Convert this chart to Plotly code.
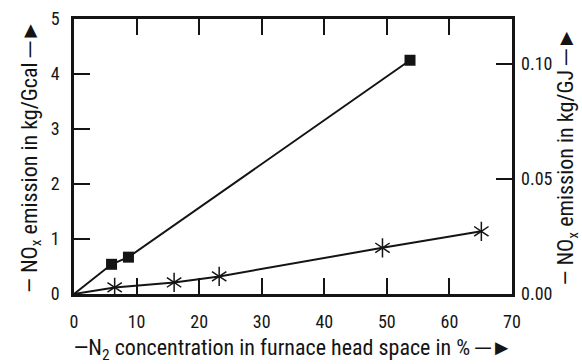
import plotly.graph_objects as go

# Data
sq_x = [0, 6.0, 8.7, 53.7]
sq_y = [0, 0.54, 0.67, 4.25]
st_x = [0, 6.5, 16.0, 23.2, 49.3, 65.1]
st_y = [0, 0.12, 0.21, 0.32, 0.84, 1.14]

x_ticks = [0, 10, 20, 30, 40, 50, 60, 70]
y_ticks = [0, 1, 2, 3, 4, 5]
y2_ticks = [0.0, 0.05, 0.10]
y2_labels = ["0.00", "0.05", "0.10"]

FONT = "Liberation Sans Narrow, Roboto Condensed, Roboto, sans-serif"
INK = "#141414"

fig = go.Figure()

fig.add_trace(go.Scatter(x=sq_x, y=sq_y, mode="lines", line=dict(color=INK, width=2),
                         showlegend=False, hoverinfo="skip"))
fig.add_trace(go.Scatter(x=sq_x[1:], y=sq_y[1:], mode="markers",
                         marker=dict(symbol="square", size=11, color=INK),
                         showlegend=False))
fig.add_trace(go.Scatter(x=st_x, y=st_y, mode="lines", line=dict(color=INK, width=2),
                         showlegend=False, hoverinfo="skip"))
for sym in ["y-up-open", "y-down-open"]:
    fig.add_trace(go.Scatter(x=st_x[1:], y=st_y[1:], mode="markers",
                             marker=dict(symbol=sym, size=12, color=INK,
                                         line=dict(color=INK, width=1.5)),
                             showlegend=False))

# invisible anchors for the right (kg/GJ) axis and the left tick overlay
fig.add_trace(go.Scatter(x=[0], y=[0], yaxis="y2", mode="markers",
                         marker=dict(opacity=0), showlegend=False, hoverinfo="skip"))
fig.add_trace(go.Scatter(x=[0], y=[0], yaxis="y3", mode="markers",
                         marker=dict(opacity=0), showlegend=False, hoverinfo="skip"))

fig.update_layout(
    width=582, height=364,
    margin=dict(l=74, r=70, t=19, b=70),
    paper_bgcolor="white", plot_bgcolor="white",
    font=dict(family=FONT, size=18, color=INK),
    xaxis=dict(range=[0, 70], tickvals=x_ticks, ticks="inside", ticklen=16,
               tickwidth=1.8, tickcolor=INK, showline=True, linewidth=2.5,
               linecolor=INK, mirror="ticks", showgrid=False, zeroline=False,
               ticklabelstandoff=10, automargin=False,
               title=dict(text="—N<sub>2</sub> concentration in furnace head space in % ─►",
                          standoff=12, font=dict(size=22))),
    yaxis=dict(range=[0, 5], tickvals=y_ticks, ticks="inside", ticklen=16,
               tickwidth=1.8, tickcolor=INK, showline=True, linewidth=2.5,
               linecolor=INK, mirror=True, showgrid=False, zeroline=False,
               ticklabelstandoff=8, automargin=False,
               title=dict(text="— NO<sub>x</sub> emission in kg/Gcal ─►",
                          standoff=8, font=dict(size=22))),
    yaxis2=dict(overlaying="y", side="right", range=[0, 0.1194],
                tickvals=y2_ticks, ticktext=y2_labels, ticks="inside", ticklen=16,
                tickwidth=1.8, tickcolor=INK, showline=False, showgrid=False,
                zeroline=False, ticklabelstandoff=8, automargin=False,
                title=dict(text="— NO<sub>x</sub> emission in kg/GJ ─►",
                           standoff=14, font=dict(size=22))),
    yaxis3=dict(overlaying="y", side="left", anchor="x", range=[0, 5],
                tickvals=y_ticks, ticks="inside", ticklen=16, tickwidth=1.8,
                tickcolor=INK, showticklabels=False, showline=False,
                showgrid=False, zeroline=False, automargin=False),
)

fig.write_html("out.html")
